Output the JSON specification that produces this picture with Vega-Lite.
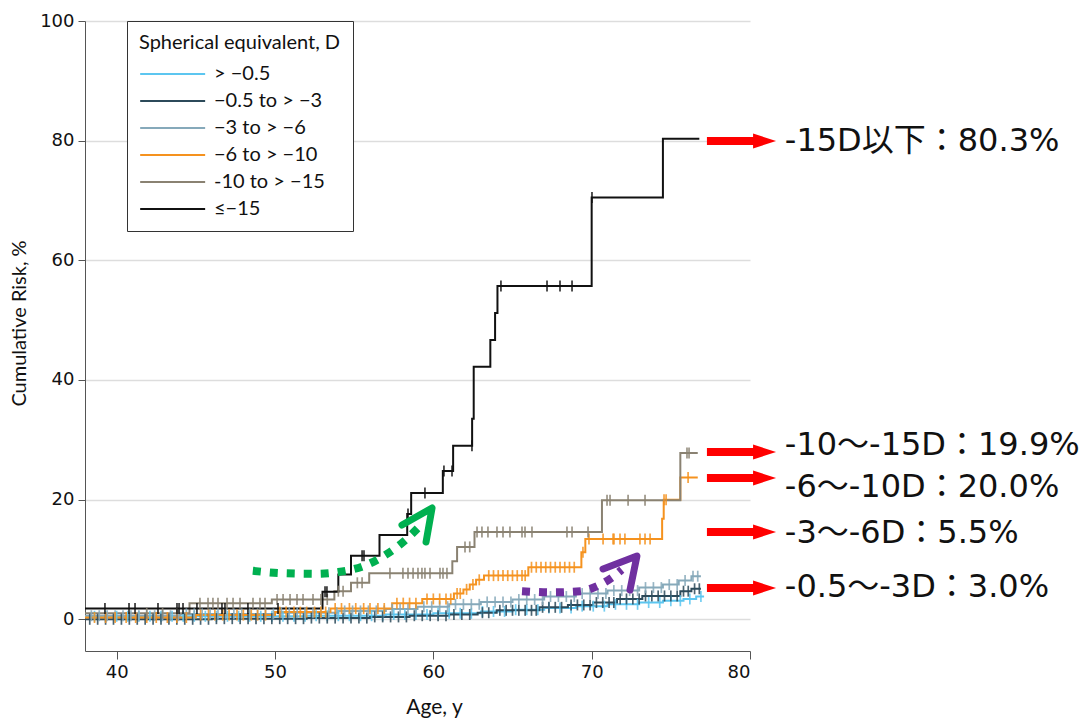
{
  "$schema": "https://vega.github.io/schema/vega-lite/v6.json",
  "width": 665,
  "height": 630,
  "autosize": {"type": "none"},
  "padding": {"left": 85, "top": 21, "right": 337, "bottom": 67},
  "background": "white",
  "config": {
    "view": {"stroke": null},
    "axis": {
      "domainColor": "#555555",
      "tickColor": "#555555",
      "gridColor": "#dddddd",
      "gridWidth": 1.5,
      "labelFont": "DejaVu Sans",
      "labelFontSize": 18,
      "labelColor": "#111111",
      "titleFont": "Lato",
      "titleFontSize": 20,
      "titleFontWeight": "normal",
      "titleColor": "#111111"
    }
  },
  "datasets": {
    "steps": [
      {"g":"a","age":38,"risk":0.5},{"g":"a","age":52,"risk":0.6},{"g":"a","age":57,"risk":0.8},{"g":"a","age":60,"risk":1.0},{"g":"a","age":63,"risk":1.3},{"g":"a","age":65,"risk":1.6},{"g":"a","age":67,"risk":1.9},{"g":"a","age":69,"risk":2.2},{"g":"a","age":71,"risk":2.5},{"g":"a","age":73,"risk":2.8},{"g":"a","age":74.5,"risk":3.1},{"g":"a","age":75.8,"risk":3.4},{"g":"a","age":76.6,"risk":3.8},{"g":"a","age":77.1,"risk":3.8},
      {"g":"b","age":38,"risk":0.0},{"g":"b","age":46,"risk":0.1},{"g":"b","age":52,"risk":0.2},{"g":"b","age":56,"risk":0.4},{"g":"b","age":58.5,"risk":0.6},{"g":"b","age":61,"risk":0.8},{"g":"b","age":62.8,"risk":1.1},{"g":"b","age":64.0,"risk":1.5},{"g":"b","age":66.7,"risk":2.0},{"g":"b","age":68.5,"risk":2.4},{"g":"b","age":70.1,"risk":2.8},{"g":"b","age":71.6,"risk":3.4},{"g":"b","age":73.2,"risk":3.9},{"g":"b","age":75.6,"risk":4.7},{"g":"b","age":76.3,"risk":5.1},{"g":"b","age":76.9,"risk":5.1},
      {"g":"c","age":38,"risk":0.6},{"g":"c","age":44,"risk":0.9},{"g":"c","age":50,"risk":1.1},{"g":"c","age":54,"risk":1.4},{"g":"c","age":57,"risk":1.7},{"g":"c","age":59,"risk":2.1},{"g":"c","age":61,"risk":2.5},{"g":"c","age":63,"risk":2.9},{"g":"c","age":65,"risk":3.3},{"g":"c","age":67,"risk":3.8},{"g":"c","age":69,"risk":4.3},{"g":"c","age":71,"risk":4.8},{"g":"c","age":73,"risk":5.3},{"g":"c","age":74.5,"risk":5.8},{"g":"c","age":75.5,"risk":6.5},{"g":"c","age":76.3,"risk":7.2},{"g":"c","age":76.9,"risk":7.2},
      {"g":"d","age":38,"risk":0.3},{"g":"d","age":45,"risk":0.7},{"g":"d","age":50,"risk":1.2},{"g":"d","age":53.5,"risk":1.8},{"g":"d","age":57.4,"risk":2.7},{"g":"d","age":59.3,"risk":3.4},{"g":"d","age":61.3,"risk":4.3},{"g":"d","age":61.9,"risk":5.0},{"g":"d","age":62.3,"risk":5.8},{"g":"d","age":62.7,"risk":6.6},{"g":"d","age":63.2,"risk":7.3},{"g":"d","age":66.0,"risk":8.7},{"g":"d","age":69.35,"risk":11.2},{"g":"d","age":69.6,"risk":13.4},{"g":"d","age":74.45,"risk":16.8},{"g":"d","age":74.55,"risk":20.0},{"g":"d","age":75.6,"risk":23.7},{"g":"d","age":76.7,"risk":23.7},
      {"g":"e","age":38,"risk":1.0},{"g":"e","age":44.6,"risk":2.7},{"g":"e","age":49.8,"risk":3.3},{"g":"e","age":53.75,"risk":4.7},{"g":"e","age":54.8,"risk":6.1},{"g":"e","age":55.95,"risk":7.7},{"g":"e","age":61.2,"risk":9.7},{"g":"e","age":61.5,"risk":12.1},{"g":"e","age":62.6,"risk":14.6},{"g":"e","age":70.65,"risk":19.9},{"g":"e","age":75.6,"risk":27.8},{"g":"e","age":76.7,"risk":27.8},
      {"g":"f","age":38,"risk":1.8},{"g":"f","age":53.0,"risk":4.6},{"g":"f","age":54.0,"risk":7.5},{"g":"f","age":54.8,"risk":10.6},{"g":"f","age":56.6,"risk":14.1},{"g":"f","age":58.35,"risk":17.6},{"g":"f","age":58.6,"risk":21.1},{"g":"f","age":60.6,"risk":24.8},{"g":"f","age":61.25,"risk":29.0},{"g":"f","age":62.45,"risk":33.5},{"g":"f","age":62.55,"risk":42.2},{"g":"f","age":63.6,"risk":46.7},{"g":"f","age":63.9,"risk":51.2},{"g":"f","age":64.05,"risk":55.7},{"g":"f","age":70.0,"risk":70.5},{"g":"f","age":74.5,"risk":80.3},{"g":"f","age":76.8,"risk":80.3}
    ],
    "cens": [
      {"g":"a","age":38.6,"risk":0.5},{"g":"a","age":39.3,"risk":0.5},{"g":"a","age":40.0,"risk":0.5},{"g":"a","age":40.7,"risk":0.5},{"g":"a","age":41.4,"risk":0.5},{"g":"a","age":42.1,"risk":0.5},{"g":"a","age":42.8,"risk":0.5},{"g":"a","age":43.5,"risk":0.5},{"g":"a","age":44.2,"risk":0.5},{"g":"a","age":44.9,"risk":0.5},{"g":"a","age":45.6,"risk":0.5},{"g":"a","age":46.3,"risk":0.5},{"g":"a","age":47.0,"risk":0.5},{"g":"a","age":47.7,"risk":0.5},{"g":"a","age":48.4,"risk":0.5},{"g":"a","age":49.1,"risk":0.5},{"g":"a","age":49.8,"risk":0.5},{"g":"a","age":50.5,"risk":0.5},{"g":"a","age":51.2,"risk":0.5},{"g":"a","age":51.9,"risk":0.5},
      {"g":"a","age":52.6,"risk":0.6},{"g":"a","age":53.3,"risk":0.6},{"g":"a","age":54.0,"risk":0.6},{"g":"a","age":54.7,"risk":0.6},{"g":"a","age":55.4,"risk":0.6},{"g":"a","age":56.1,"risk":0.6},{"g":"a","age":56.8,"risk":0.6},
      {"g":"a","age":57.5,"risk":0.8},{"g":"a","age":58.2,"risk":0.8},{"g":"a","age":58.9,"risk":0.8},{"g":"a","age":59.6,"risk":0.8},
      {"g":"a","age":60.3,"risk":1.0},{"g":"a","age":61.0,"risk":1.0},{"g":"a","age":61.7,"risk":1.0},{"g":"a","age":62.4,"risk":1.0},
      {"g":"a","age":63.1,"risk":1.3},{"g":"a","age":63.8,"risk":1.3},{"g":"a","age":64.5,"risk":1.3},
      {"g":"a","age":65.2,"risk":1.6},{"g":"a","age":65.9,"risk":1.6},{"g":"a","age":66.6,"risk":1.6},
      {"g":"a","age":67.3,"risk":1.9},{"g":"a","age":68.0,"risk":1.9},{"g":"a","age":68.7,"risk":1.9},
      {"g":"a","age":69.4,"risk":2.2},{"g":"a","age":70.1,"risk":2.2},{"g":"a","age":70.8,"risk":2.2},
      {"g":"a","age":71.5,"risk":2.5},{"g":"a","age":72.2,"risk":2.5},{"g":"a","age":72.9,"risk":2.5},
      {"g":"a","age":73.6,"risk":2.8},{"g":"a","age":74.3,"risk":2.8},
      {"g":"a","age":75.0,"risk":3.1},{"g":"a","age":75.6,"risk":3.1},
      {"g":"a","age":76.2,"risk":3.4},{"g":"a","age":76.9,"risk":3.8},

      {"g":"b","age":38.3,"risk":0.0},{"g":"b","age":38.8,"risk":0.0},{"g":"b","age":39.3,"risk":0.0},{"g":"b","age":39.8,"risk":0.0},{"g":"b","age":40.3,"risk":0.0},{"g":"b","age":40.8,"risk":0.0},{"g":"b","age":41.3,"risk":0.0},{"g":"b","age":41.8,"risk":0.0},{"g":"b","age":42.3,"risk":0.0},{"g":"b","age":42.8,"risk":0.0},{"g":"b","age":43.3,"risk":0.0},{"g":"b","age":43.8,"risk":0.0},{"g":"b","age":44.3,"risk":0.0},{"g":"b","age":44.8,"risk":0.0},{"g":"b","age":45.3,"risk":0.0},{"g":"b","age":45.8,"risk":0.0},
      {"g":"b","age":46.3,"risk":0.1},{"g":"b","age":46.8,"risk":0.1},{"g":"b","age":47.3,"risk":0.1},{"g":"b","age":47.8,"risk":0.1},{"g":"b","age":48.3,"risk":0.1},{"g":"b","age":48.8,"risk":0.1},{"g":"b","age":49.3,"risk":0.1},{"g":"b","age":49.8,"risk":0.1},{"g":"b","age":50.3,"risk":0.1},{"g":"b","age":50.8,"risk":0.1},{"g":"b","age":51.3,"risk":0.1},{"g":"b","age":51.8,"risk":0.1},
      {"g":"b","age":52.3,"risk":0.2},{"g":"b","age":52.8,"risk":0.2},{"g":"b","age":53.3,"risk":0.2},{"g":"b","age":53.8,"risk":0.2},{"g":"b","age":54.3,"risk":0.2},{"g":"b","age":54.8,"risk":0.2},{"g":"b","age":55.3,"risk":0.2},{"g":"b","age":55.8,"risk":0.2},
      {"g":"b","age":56.3,"risk":0.4},{"g":"b","age":56.8,"risk":0.4},{"g":"b","age":57.3,"risk":0.4},{"g":"b","age":57.8,"risk":0.4},{"g":"b","age":58.3,"risk":0.4},
      {"g":"b","age":58.8,"risk":0.6},{"g":"b","age":59.3,"risk":0.6},{"g":"b","age":59.8,"risk":0.6},{"g":"b","age":60.3,"risk":0.6},{"g":"b","age":60.8,"risk":0.6},
      {"g":"b","age":61.3,"risk":0.8},{"g":"b","age":61.8,"risk":0.8},{"g":"b","age":62.3,"risk":0.8},
      {"g":"b","age":63.1,"risk":1.1},{"g":"b","age":63.5,"risk":1.1},
      {"g":"b","age":64.2,"risk":1.5},{"g":"b","age":64.6,"risk":1.5},{"g":"b","age":65.0,"risk":1.5},{"g":"b","age":65.4,"risk":1.5},{"g":"b","age":65.8,"risk":1.5},{"g":"b","age":66.2,"risk":1.5},{"g":"b","age":66.5,"risk":1.5},
      {"g":"b","age":66.9,"risk":2.0},{"g":"b","age":67.3,"risk":2.0},{"g":"b","age":67.7,"risk":2.0},{"g":"b","age":68.1,"risk":2.0},
      {"g":"b","age":68.7,"risk":2.4},{"g":"b","age":69.1,"risk":2.4},{"g":"b","age":69.5,"risk":2.4},{"g":"b","age":69.9,"risk":2.4},
      {"g":"b","age":70.3,"risk":2.8},{"g":"b","age":70.7,"risk":2.8},{"g":"b","age":71.1,"risk":2.8},{"g":"b","age":71.4,"risk":2.8},
      {"g":"b","age":71.8,"risk":3.4},{"g":"b","age":72.2,"risk":3.4},{"g":"b","age":72.6,"risk":3.4},{"g":"b","age":73.0,"risk":3.4},
      {"g":"b","age":73.4,"risk":3.9},{"g":"b","age":73.8,"risk":3.9},{"g":"b","age":74.2,"risk":3.9},{"g":"b","age":74.6,"risk":3.9},{"g":"b","age":75.0,"risk":3.9},{"g":"b","age":75.4,"risk":3.9},
      {"g":"b","age":75.8,"risk":4.7},{"g":"b","age":76.1,"risk":4.7},{"g":"b","age":76.5,"risk":5.1},{"g":"b","age":76.8,"risk":5.1},

      {"g":"c","age":38.4,"risk":0.6},{"g":"c","age":38.9,"risk":0.6},{"g":"c","age":39.4,"risk":0.6},{"g":"c","age":39.9,"risk":0.6},{"g":"c","age":40.4,"risk":0.6},{"g":"c","age":40.9,"risk":0.6},{"g":"c","age":41.4,"risk":0.6},{"g":"c","age":41.9,"risk":0.6},{"g":"c","age":42.4,"risk":0.6},{"g":"c","age":42.9,"risk":0.6},{"g":"c","age":43.4,"risk":0.6},{"g":"c","age":43.9,"risk":0.6},
      {"g":"c","age":44.4,"risk":0.9},{"g":"c","age":44.9,"risk":0.9},{"g":"c","age":45.4,"risk":0.9},{"g":"c","age":45.9,"risk":0.9},{"g":"c","age":46.4,"risk":0.9},{"g":"c","age":46.9,"risk":0.9},{"g":"c","age":47.4,"risk":0.9},{"g":"c","age":47.9,"risk":0.9},{"g":"c","age":48.4,"risk":0.9},{"g":"c","age":48.9,"risk":0.9},{"g":"c","age":49.4,"risk":0.9},{"g":"c","age":49.9,"risk":0.9},
      {"g":"c","age":50.4,"risk":1.1},{"g":"c","age":50.9,"risk":1.1},{"g":"c","age":51.4,"risk":1.1},{"g":"c","age":51.9,"risk":1.1},{"g":"c","age":52.4,"risk":1.1},{"g":"c","age":52.9,"risk":1.1},{"g":"c","age":53.4,"risk":1.1},{"g":"c","age":53.9,"risk":1.1},
      {"g":"c","age":54.4,"risk":1.4},{"g":"c","age":54.9,"risk":1.4},{"g":"c","age":55.4,"risk":1.4},{"g":"c","age":55.9,"risk":1.4},{"g":"c","age":56.4,"risk":1.4},{"g":"c","age":56.9,"risk":1.4},
      {"g":"c","age":57.4,"risk":1.7},{"g":"c","age":57.9,"risk":1.7},{"g":"c","age":58.4,"risk":1.7},{"g":"c","age":58.9,"risk":1.7},
      {"g":"c","age":59.4,"risk":2.1},{"g":"c","age":59.9,"risk":2.1},{"g":"c","age":60.4,"risk":2.1},{"g":"c","age":60.9,"risk":2.1},
      {"g":"c","age":61.4,"risk":2.5},{"g":"c","age":61.9,"risk":2.5},{"g":"c","age":62.4,"risk":2.5},{"g":"c","age":62.9,"risk":2.5},
      {"g":"c","age":63.4,"risk":2.9},{"g":"c","age":63.9,"risk":2.9},{"g":"c","age":64.4,"risk":2.9},{"g":"c","age":64.9,"risk":2.9},
      {"g":"c","age":65.4,"risk":3.3},{"g":"c","age":65.9,"risk":3.3},{"g":"c","age":66.4,"risk":3.3},{"g":"c","age":66.9,"risk":3.3},
      {"g":"c","age":67.4,"risk":3.8},{"g":"c","age":67.9,"risk":3.8},{"g":"c","age":68.4,"risk":3.8},{"g":"c","age":68.9,"risk":3.8},
      {"g":"c","age":69.4,"risk":4.3},{"g":"c","age":69.9,"risk":4.3},{"g":"c","age":70.4,"risk":4.3},{"g":"c","age":70.9,"risk":4.3},
      {"g":"c","age":71.4,"risk":4.8},{"g":"c","age":71.9,"risk":4.8},{"g":"c","age":72.4,"risk":4.8},{"g":"c","age":72.9,"risk":4.8},
      {"g":"c","age":73.4,"risk":5.3},{"g":"c","age":73.9,"risk":5.3},{"g":"c","age":74.4,"risk":5.3},
      {"g":"c","age":74.9,"risk":5.8},{"g":"c","age":75.4,"risk":5.8},{"g":"c","age":75.9,"risk":6.5},{"g":"c","age":76.4,"risk":7.2},{"g":"c","age":76.7,"risk":7.2},

      {"g":"d","age":38.6,"risk":0.3},{"g":"d","age":39.3,"risk":0.3},{"g":"d","age":39.9,"risk":0.3},{"g":"d","age":40.6,"risk":0.3},{"g":"d","age":41.2,"risk":0.3},{"g":"d","age":41.9,"risk":0.3},{"g":"d","age":42.5,"risk":0.3},{"g":"d","age":43.2,"risk":0.3},{"g":"d","age":43.8,"risk":0.3},{"g":"d","age":44.4,"risk":0.3},
      {"g":"d","age":45.3,"risk":0.7},{"g":"d","age":45.8,"risk":0.7},{"g":"d","age":46.2,"risk":0.7},{"g":"d","age":46.7,"risk":0.7},{"g":"d","age":47.1,"risk":0.7},{"g":"d","age":47.6,"risk":0.7},{"g":"d","age":48.0,"risk":0.7},{"g":"d","age":48.5,"risk":0.7},{"g":"d","age":48.9,"risk":0.7},{"g":"d","age":49.4,"risk":0.7},
      {"g":"d","age":50.3,"risk":1.2},{"g":"d","age":50.7,"risk":1.2},{"g":"d","age":51.2,"risk":1.2},{"g":"d","age":51.6,"risk":1.2},{"g":"d","age":52.0,"risk":1.2},{"g":"d","age":52.5,"risk":1.2},{"g":"d","age":52.9,"risk":1.2},{"g":"d","age":53.2,"risk":1.2},
      {"g":"d","age":53.8,"risk":1.8},{"g":"d","age":54.2,"risk":1.8},{"g":"d","age":54.7,"risk":1.8},{"g":"d","age":55.1,"risk":1.8},{"g":"d","age":55.6,"risk":1.8},{"g":"d","age":56.0,"risk":1.8},{"g":"d","age":56.5,"risk":1.8},{"g":"d","age":56.9,"risk":1.8},
      {"g":"d","age":57.7,"risk":2.7},{"g":"d","age":58.1,"risk":2.7},{"g":"d","age":58.5,"risk":2.7},{"g":"d","age":58.9,"risk":2.7},
      {"g":"d","age":59.6,"risk":3.4},{"g":"d","age":60.0,"risk":3.4},{"g":"d","age":60.4,"risk":3.4},{"g":"d","age":60.8,"risk":3.4},{"g":"d","age":61.1,"risk":3.4},
      {"g":"d","age":61.5,"risk":4.3},{"g":"d","age":61.7,"risk":4.3},{"g":"d","age":62.1,"risk":5.0},{"g":"d","age":62.5,"risk":5.8},{"g":"d","age":62.9,"risk":6.6},
      {"g":"d","age":63.5,"risk":7.3},{"g":"d","age":63.8,"risk":7.3},{"g":"d","age":64.1,"risk":7.3},{"g":"d","age":64.4,"risk":7.3},{"g":"d","age":64.7,"risk":7.3},{"g":"d","age":65.0,"risk":7.3},{"g":"d","age":65.3,"risk":7.3},{"g":"d","age":65.6,"risk":7.3},{"g":"d","age":65.8,"risk":7.3},
      {"g":"d","age":66.2,"risk":8.7},{"g":"d","age":66.5,"risk":8.7},{"g":"d","age":66.8,"risk":8.7},{"g":"d","age":67.1,"risk":8.7},{"g":"d","age":67.4,"risk":8.7},{"g":"d","age":67.7,"risk":8.7},{"g":"d","age":68.0,"risk":8.7},{"g":"d","age":68.3,"risk":8.7},{"g":"d","age":68.6,"risk":8.7},{"g":"d","age":68.9,"risk":8.7},
      {"g":"d","age":69.45,"risk":11.2},
      {"g":"d","age":69.83,"risk":13.4},{"g":"d","age":70.72,"risk":13.4},{"g":"d","age":71.35,"risk":13.4},{"g":"d","age":71.41,"risk":13.4},{"g":"d","age":71.79,"risk":13.4},{"g":"d","age":72.1,"risk":13.4},{"g":"d","age":73.05,"risk":13.4},{"g":"d","age":73.37,"risk":13.4},{"g":"d","age":73.69,"risk":13.4},
      {"g":"d","age":74.57,"risk":20.0},{"g":"d","age":74.7,"risk":20.0},{"g":"d","age":76.09,"risk":23.7},

      {"g":"e","age":41.9,"risk":1.0},{"g":"e","age":42.9,"risk":1.0},{"g":"e","age":43.8,"risk":1.0},
      {"g":"e","age":45.26,"risk":2.7},{"g":"e","age":45.77,"risk":2.7},{"g":"e","age":46.08,"risk":2.7},{"g":"e","age":46.4,"risk":2.7},{"g":"e","age":46.97,"risk":2.7},{"g":"e","age":47.35,"risk":2.7},{"g":"e","age":47.79,"risk":2.7},{"g":"e","age":48.61,"risk":2.7},{"g":"e","age":49.05,"risk":2.7},{"g":"e","age":49.37,"risk":2.7},
      {"g":"e","age":50.13,"risk":3.3},{"g":"e","age":50.51,"risk":3.3},{"g":"e","age":50.95,"risk":3.3},{"g":"e","age":51.39,"risk":3.3},{"g":"e","age":51.77,"risk":3.3},{"g":"e","age":52.4,"risk":3.3},{"g":"e","age":52.9,"risk":3.3},{"g":"e","age":53.3,"risk":3.3},
      {"g":"e","age":54.0,"risk":4.7},{"g":"e","age":54.3,"risk":4.7},{"g":"e","age":55.2,"risk":6.1},{"g":"e","age":55.5,"risk":6.1},
      {"g":"e","age":57.26,"risk":7.7},{"g":"e","age":58.08,"risk":7.7},{"g":"e","age":58.4,"risk":7.7},{"g":"e","age":58.72,"risk":7.7},{"g":"e","age":59.03,"risk":7.7},{"g":"e","age":59.28,"risk":7.7},{"g":"e","age":59.47,"risk":7.7},{"g":"e","age":59.79,"risk":7.7},{"g":"e","age":60.42,"risk":7.7},{"g":"e","age":60.61,"risk":7.7},{"g":"e","age":60.86,"risk":7.7},
      {"g":"e","age":62.0,"risk":12.1},{"g":"e","age":62.3,"risk":12.1},
      {"g":"e","age":62.76,"risk":14.6},{"g":"e","age":63.07,"risk":14.6},{"g":"e","age":63.45,"risk":14.6},{"g":"e","age":64.02,"risk":14.6},{"g":"e","age":64.4,"risk":14.6},{"g":"e","age":64.84,"risk":14.6},{"g":"e","age":65.6,"risk":14.6},{"g":"e","age":65.79,"risk":14.6},{"g":"e","age":66.23,"risk":14.6},{"g":"e","age":68.44,"risk":14.6},{"g":"e","age":68.76,"risk":14.6},{"g":"e","age":69.77,"risk":14.6},
      {"g":"e","age":70.97,"risk":19.9},{"g":"e","age":71.16,"risk":19.9},{"g":"e","age":72.3,"risk":19.9},{"g":"e","age":73.37,"risk":19.9},
      {"g":"e","age":76.02,"risk":27.8},{"g":"e","age":76.15,"risk":27.8},

      {"g":"f","age":39.26,"risk":1.8},{"g":"f","age":40.78,"risk":1.8},{"g":"f","age":41.16,"risk":1.8},{"g":"f","age":42.61,"risk":1.8},{"g":"f","age":43.81,"risk":1.8},{"g":"f","age":43.94,"risk":1.8},{"g":"f","age":44.19,"risk":1.8},{"g":"f","age":45.07,"risk":1.8},{"g":"f","age":46.65,"risk":1.8},{"g":"f","age":46.84,"risk":1.8},{"g":"f","age":48.29,"risk":1.8},{"g":"f","age":50.19,"risk":1.8},
      {"g":"f","age":53.16,"risk":4.6},{"g":"f","age":53.28,"risk":4.6},{"g":"f","age":55.5,"risk":10.6},{"g":"f","age":55.62,"risk":10.6},{"g":"f","age":58.4,"risk":17.6},{"g":"f","age":59.47,"risk":21.1},{"g":"f","age":60.67,"risk":24.8},{"g":"f","age":61.18,"risk":24.8},{"g":"f","age":62.44,"risk":29.0},
      {"g":"f","age":64.27,"risk":55.7},{"g":"f","age":67.18,"risk":55.7},{"g":"f","age":68.0,"risk":55.7},{"g":"f","age":68.76,"risk":55.7},{"g":"f","age":70.02,"risk":70.5}
    ],
    "arrows": [{"risk":79.94},{"risk":27.96},{"risk":23.62},{"risk":14.59},{"risk":5.23}],
    "labels": [
      {"risk":79.9,"label":"-15D以下：80.3%"},
      {"risk":29.1,"label":"-10〜-15D：19.9%"},
      {"risk":22.1,"label":"-6〜-10D：20.0%"},
      {"risk":14.4,"label":"-3〜-6D：5.5%"},
      {"risk":5.4,"label":"-0.5〜-3D：3.0%"}
    ],
    "greenDots": [{"age":48.6,"risk":8.1},{"age":50.5,"risk":7.7},{"age":52.5,"risk":7.6},{"age":54.0,"risk":7.9},{"age":55.6,"risk":8.9},{"age":57.0,"risk":10.8},{"age":58.3,"risk":13.4},{"age":59.3,"risk":16.0}],
    "greenHead": [{"i":1,"age":58.02,"risk":15.76},{"i":2,"age":59.92,"risk":18.6},{"i":3,"age":59.54,"risk":12.92}],
    "purpleDots": [{"age":65.6,"risk":4.7},{"age":67.5,"risk":4.5},{"age":69.3,"risk":4.7},{"age":70.4,"risk":5.6},{"age":71.4,"risk":7.2},{"age":71.9,"risk":8.3}],
    "purpleHead": [{"i":1,"age":70.72,"risk":8.41},{"i":2,"age":72.86,"risk":10.58},{"i":3,"age":72.42,"risk":4.9}]
  },
  "layer": [
    {
      "data": {"name": "steps"},
      "mark": {"type": "line", "interpolate": "step-after", "strokeWidth": 2},
      "encoding": {
        "x": {"field": "age", "type": "quantitative",
              "scale": {"domain": [38, 80], "nice": false, "zero": false},
              "axis": {"values": [40, 50, 60, 70, 80], "title": "Age, y", "grid": false, "tickSize": 8, "labelPadding": 4, "titlePadding": 15, "titleX": 349, "titleFontSize": 21}},
        "y": {"field": "risk", "type": "quantitative",
              "scale": {"domain": [-5.3, 100], "nice": false, "zero": false},
              "axis": {"values": [0, 20, 40, 60, 80, 100], "title": "Cumulative Risk, %", "grid": true, "tickSize": 7, "labelPadding": 4, "titlePadding": 10, "titleY": 302}},
        "color": {"field": "g", "type": "nominal",
                  "scale": {"domain": ["a","b","c","d","e","f"], "range": ["#5CC6F0","#2C4A5A","#86A9BA","#F5921E","#8A8272","#111111"]},
                  "legend": {"orient": "none", "legendX": 42, "legendY": 0, "title": "Spherical equivalent, D", "titleLimit": 400, "labelLimit": 300,
                             "labelExpr": "{'a':'> −0.5','b':'−0.5 to > −3','c':'−3 to > −6','d':'−6 to > −10','e':'-10 to > −15','f':'≤−15'}[datum.value]",
                             "symbolType": "M-1,0L5,0", "symbolSize": 469, "symbolStrokeWidth": 1.8, "labelOffset": 51,
                             "rowPadding": 5, "padding": 12, "strokeColor": "#333333", "fillColor": "white",
                             "titleFont": "Lato", "titleFontSize": 20, "titleFontWeight": "normal", "titleColor": "#111111", "titlePadding": 9,
                             "labelFont": "Lato", "labelFontSize": 20, "labelColor": "#111111"}}
      }
    },
    {
      "data": {"name": "cens"},
      "mark": {"type": "point", "shape": "M0,-1L0,1", "size": 121, "filled": false, "strokeWidth": 1.7, "opacity": 0.85},
      "encoding": {
        "x": {"field": "age", "type": "quantitative"},
        "y": {"field": "risk", "type": "quantitative"},
        "color": {"field": "g", "type": "nominal", "legend": null}
      }
    },
    {
      "data": {"name": "arrows"},
      "mark": {"type": "rule", "color": "#FF0000", "strokeWidth": 8, "strokeCap": "butt"},
      "encoding": {
        "x": {"datum": 77.28, "type": "quantitative"},
        "x2": {"datum": 80.4},
        "y": {"field": "risk", "type": "quantitative"}
      }
    },
    {
      "data": {"name": "arrows"},
      "mark": {"type": "point", "shape": "M-1,-0.65L1,0L-1,0.65Z", "size": 529, "filled": true, "color": "#FF0000", "opacity": 1},
      "encoding": {
        "x": {"datum": 80.92, "type": "quantitative"},
        "y": {"field": "risk", "type": "quantitative"}
      }
    },
    {
      "data": {"name": "labels"},
      "mark": {"type": "text", "align": "left", "baseline": "middle", "font": "DejaVu Sans, Noto Sans CJK JP", "fontSize": 32, "color": "#111111"},
      "encoding": {
        "x": {"datum": 82.2, "type": "quantitative"},
        "y": {"field": "risk", "type": "quantitative"},
        "text": {"field": "label", "type": "nominal"}
      }
    },
    {
      "data": {"name": "greenDots"},
      "mark": {"type": "line", "interpolate": "monotone", "color": "#00B050", "strokeWidth": 8, "strokeDash": [8, 9], "strokeCap": "butt"},
      "encoding": {
        "x": {"field": "age", "type": "quantitative"},
        "y": {"field": "risk", "type": "quantitative"}
      }
    },
    {
      "data": {"name": "greenHead"},
      "mark": {"type": "line", "color": "#00B050", "strokeWidth": 7, "strokeCap": "round", "strokeJoin": "round"},
      "encoding": {
        "x": {"field": "age", "type": "quantitative"},
        "y": {"field": "risk", "type": "quantitative"},
        "order": {"field": "i", "type": "quantitative"}
      }
    },
    {
      "data": {"name": "purpleDots"},
      "mark": {"type": "line", "interpolate": "monotone", "color": "#7030A0", "strokeWidth": 8, "strokeDash": [8, 9], "strokeCap": "butt"},
      "encoding": {
        "x": {"field": "age", "type": "quantitative"},
        "y": {"field": "risk", "type": "quantitative"}
      }
    },
    {
      "data": {"name": "purpleHead"},
      "mark": {"type": "line", "color": "#7030A0", "strokeWidth": 7, "strokeCap": "round", "strokeJoin": "round"},
      "encoding": {
        "x": {"field": "age", "type": "quantitative"},
        "y": {"field": "risk", "type": "quantitative"},
        "order": {"field": "i", "type": "quantitative"}
      }
    }
  ]
}
